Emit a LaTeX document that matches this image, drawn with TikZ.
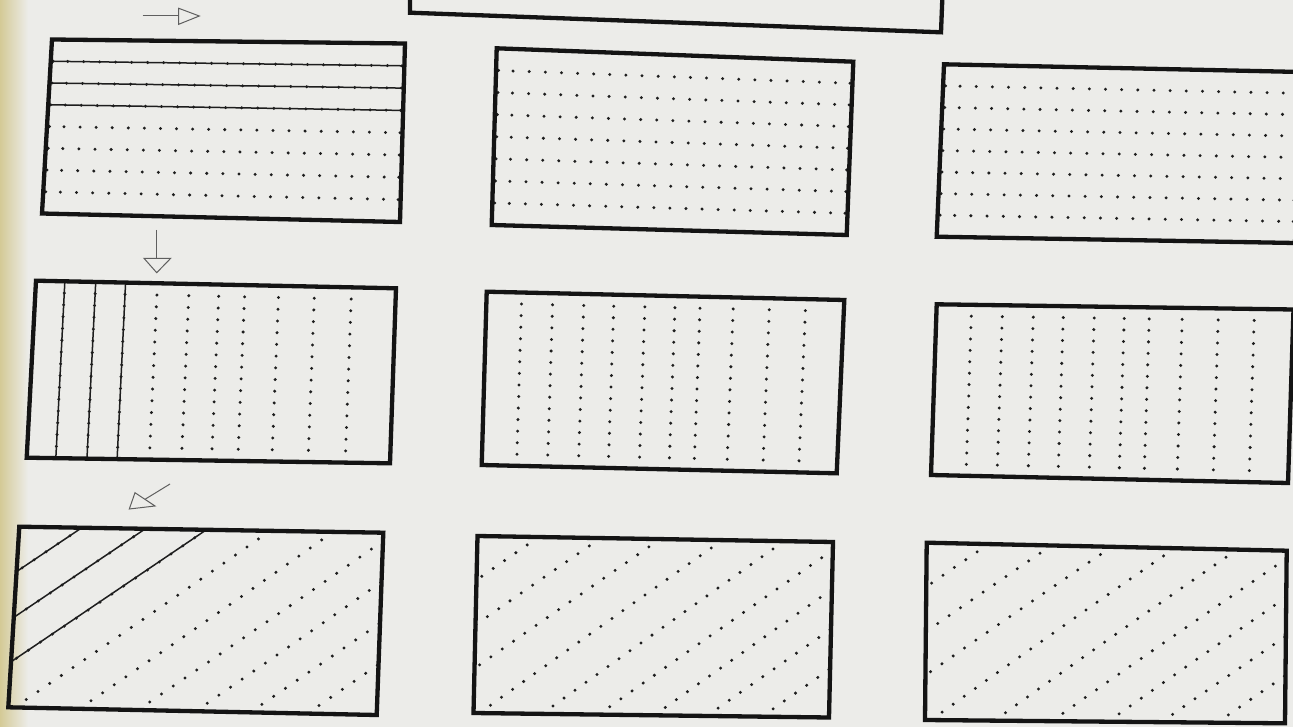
\documentclass[tikz,border=0pt]{standalone}
\usetikzlibrary{calc}
\definecolor{paper}{RGB}{236,236,233}
\definecolor{paperedge}{RGB}{212,202,150}
\definecolor{ink}{RGB}{20,20,20}
\definecolor{dotc}{RGB}{30,30,30}
\definecolor{arrowc}{RGB}{95,95,95}
\tikzset{
  frame/.style={draw=ink,line width=4.3pt,line join=miter},
  rule/.style={draw=dotc,line width=1.5pt},
  pointer/.style={draw=arrowc,line width=1pt,line join=miter},
}
\newcommand\setquad[9]{\def\qax{#1}\def\qay{#2}\def\qbx{#3}\def\qby{#4}\def\qcx{#5}\def\qcy{#6}\def\qdx{#7}\def\qdy{#8}\def\qW{#9}}
\newcommand\qpt[2]{%
  \pgfmathsetmacro\qX{(1-(#2))*((1-(#1))*\qax+(#1)*\qbx)+(#2)*((1-(#1))*\qdx+(#1)*\qcx)}%
  \pgfmathsetmacro\qY{(1-(#2))*((1-(#1))*\qay+(#1)*\qby)+(#2)*((1-(#1))*\qdy+(#1)*\qcy)}}
\newcommand\qdot[2]{\qpt{#1}{#2}\fill[dotc] (\qX,\qY) circle[radius=1.65pt];}
\newcommand\qclip{\clip (\qax,\qay) -- (\qbx,\qby) -- (\qcx,\qcy) -- (\qdx,\qdy) -- cycle;}
\newcommand\qframe{\draw[frame] (\qax,\qay) -- (\qbx,\qby) -- (\qcx,\qcy) -- (\qdx,\qdy) -- cycle;}
% horizontal rows of dots
\newcommand\rowsdots[1]{%
  \foreach \qk in {1,...,7}{%
    \pgfmathsetmacro\qr{\qk/8}%
    \ifnum\qk>#1\relax\else
      \qpt{0}{\qr}\let\xa\qX\let\ya\qY\qpt{1}{\qr}\draw[rule] (\xa,\ya)--(\qX,\qY);\fi
    \foreach \qj in {0,...,20}{\pgfmathsetmacro\qs{(17+\qj*(\qW-34)/20)/\qW}\qdot{\qs}{\qr}}%
    \qdot{2.5/\qW}{\qr}\qdot{1-2.5/\qW}{\qr}%
  }}
% vertical columns of dots
\newcommand\colsdots[2]{%
  \foreach \qu [count=\qn] in {#1}{%
    \pgfmathsetmacro\qs{\qu/\qW}%
    \ifnum\qn>#2\relax\else
      \qpt{\qs}{0}\let\xa\qX\let\ya\qY\qpt{\qs}{1}\draw[rule] (\xa,\ya)--(\qX,\qY);\fi
    \foreach \qk in {0,...,15}{\pgfmathsetmacro\qr{\qk/15}\qdot{\qs}{\qr}}%
  }}
% diagonal lines of dots
\newcommand\diagdots[1]{%
  \foreach \lc/\lt [count=\qn] in {-186/61.5,-123/124,-62/184,6/246.5,69/308.6,126/369,182/423,235/479,290.5/534}{%
    \ifnum\qn>#1\relax\else
      \pgfmathsetmacro\rA{\lt/(\lt-\lc)}\pgfmathsetmacro\sB{\lt/358}%
      \qpt{0}{\rA}\let\xa\qX\let\ya\qY\qpt{\sB}{0}\draw[rule] (\xa,\ya)--(\qX,\qY);\fi
    \foreach \qj in {0,...,22}{\pgfmathsetmacro\qs{(\lc+(\lt-\lc)*\qj/22)/358}\pgfmathsetmacro\qr{1-\qj/22}\qdot{\qs}{\qr}}%
  }}
\newcommand\patbox[1]{\begin{scope}\qclip #1\end{scope}\qframe}
\begin{document}
\begin{tikzpicture}[x=1pt,y=-1pt]
\useasboundingbox (0,0) rectangle (1293,727);
\clip (0,0) rectangle (1293,727);
\fill[paper] (0,0) rectangle (1293,727);
\shade[left color=paperedge,right color=paper] (0,0) rectangle (28,727);
% partial box at top
\draw[frame] (410,-6) -- (410,12.7) -- (941,32.3) -- (942.5,-6);
% row 1
\setquad{52}{39.5}{405}{43.5}{400}{222}{42}{213.5}{355}
\patbox{\rowsdots{3}}
\setquad{496.7}{48.3}{853.3}{61.7}{846.7}{235}{491.7}{225}{356}
\patbox{\rowsdots{0}}
\setquad{944}{64.3}{1301}{72}{1295}{243}{936.7}{236.7}{357}
\patbox{\rowsdots{0}}
% row 2
\setquad{36}{280.7}{396}{288.3}{390}{463.3}{26.7}{457.7}{361.6}
\patbox{\colsdots{29,60,90,122,154,184,210,244,280,317}{3}}
\setquad{486.7}{291.7}{844.3}{300}{836.7}{473.3}{481.7}{465}{356.3}
\patbox{\colsdots{35,66,97,127,158,188,213,246,282,318}{0}}
\setquad{936.7}{304.3}{1293.5}{309.5}{1288}{483}{931}{475}{357}
\patbox{\colsdots{35,66,97,127,158,188,213,246,282,318}{0}}
% row 3
\setquad{19.3}{526.7}{383.3}{532.7}{376.7}{715}{8.3}{707.3}{364}
\patbox{\diagdots{3}}
\setquad{477.5}{536}{833}{542}{829}{717.5}{473.5}{713}{356}
\patbox{\diagdots{0}}
\setquad{926.7}{542.7}{1286.7}{550.7}{1285}{723.3}{925}{720}{360}
\patbox{\diagdots{0}}
% direction arrows
\coordinate (r1s) at (142.7,16);
\coordinate (r1b) at (178.7,16);
\draw[pointer] (r1s) -- (r1b);
\draw[pointer] (178.7,8.3) -- (199.3,16) -- (178.7,24.3) -- cycle;
\coordinate (r2s) at (156.7,230);
\coordinate (r2b) at (156.7,258.3);
\draw[pointer] (r2s) -- (r2b);
\draw[pointer] (144,258.3) -- (156.7,272.7) -- (170.7,258.3) -- cycle;
\coordinate (r3s) at (170,484);
\coordinate (r3b) at (145,499.3);
\draw[pointer] (r3s) -- (r3b);
\draw[pointer] (135,492.7) -- (129.3,509) -- (155,506) -- cycle;
\end{tikzpicture}
\end{document}
